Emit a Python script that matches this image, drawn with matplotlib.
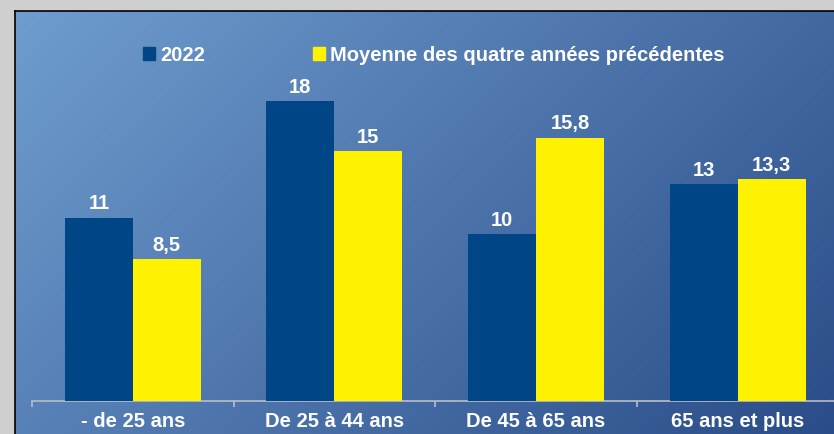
import numpy as np
import matplotlib.pyplot as plt
from matplotlib.patches import Patch
from matplotlib.colors import to_rgb

plt.rcParams['font.family'] = ['Liberation Sans', 'DejaVu Sans']

categories = ['- de 25 ans', 'De 25 à 44 ans', 'De 45 à 65 ans', '65 ans et plus']
values_2022 = [11, 18, 10, 13]
values_avg = [8.5, 15, 15.8, 13.3]
labels_2022 = ['11', '18', '10', '13']
labels_avg = ['8,5', '15', '15,8', '13,3']
series_names = ['2022', 'Moyenne des quatre années précédentes']

W, H = 834, 434
fig = plt.figure(figsize=(W / 100, H / 100), dpi=100)
fig.patch.set_facecolor('#cfcfcf')

# gradient background panel
bg = fig.add_axes([15 / W, 0, (W - 15) / W + 0.01, (H - 11) / H])
nx, ny = 400, 200
xx, yy = np.meshgrid(np.linspace(0, 1, nx), np.linspace(0, 1, ny))
t = (xx * (W - 15) + yy * (H - 11)) / ((W - 15) + (H - 11))
c0 = np.array(to_rgb('#6f9dcf'))
c1 = np.array(to_rgb('#2a4c88'))
img = c0[None, None, :] * (1 - t[..., None]) + c1[None, None, :] * t[..., None]
bg.imshow(img, aspect='auto', extent=(0, 1, 0, 1), origin='upper')
bg.set_xlim(0, 1)
bg.set_ylim(0, 1)
bg.set_xticks([])
bg.set_yticks([])
for side in ['right', 'bottom']:
    bg.spines[side].set_visible(False)
for side in ['top', 'left']:
    bg.spines[side].set_color('black')
    bg.spines[side].set_linewidth(1.2)

# plot area
left, right, bottom, top = 32, 838.4, 401, 11
ax = fig.add_axes([left / W, (H - bottom) / H, (right - left) / W, (bottom - top) / H])
ax.patch.set_alpha(0)
ax.set_xlim(-0.5, 3.5)
ax.set_ylim(0, (bottom - top) / 16.67)

x = np.arange(len(categories))
bw = 0.337
b1 = ax.bar(x - bw / 2, values_2022, bw, color='#004586', zorder=3)
b2 = ax.bar(x + bw / 2, values_avg, bw, color='#fff200', zorder=3)

for bars, labs in [(b1, labels_2022), (b2, labels_avg)]:
    for rect, lab in zip(bars, labs):
        ax.annotate(lab, (rect.get_x() + rect.get_width() / 2, rect.get_height()),
                    xytext=(0, 3), textcoords='offset points', ha='center', va='bottom',
                    color='white', fontsize=14.5, fontweight='bold')

for side in ['top', 'left', 'right']:
    ax.spines[side].set_visible(False)
ax.spines['bottom'].set_color('#b8bec8')
ax.spines['bottom'].set_linewidth(1.2)
ax.set_yticks([])
ax.set_xticks(np.arange(-0.5, 4, 1))
ax.set_xticklabels([])
ax.tick_params(axis='x', length=4, color='#b8bec8', width=1.2)
ax.set_xticks(x, minor=True)
ax.set_xticklabels(categories, minor=True, color='white', fontsize=14.5, fontweight='bold')
ax.tick_params(axis='x', which='minor', length=0, pad=8)

handles = [Patch(color='#004586'), Patch(color='#fff200')]
ax.legend(handles, series_names, loc='center', bbox_to_anchor=(0.4985, 0.887), ncol=2,
          frameon=False, handlelength=0.6, handleheight=0.6, handletextpad=0.25,
          columnspacing=5.35, prop={'size': 14.5, 'weight': 'bold'}, labelcolor='white')

fig.savefig('out.png', dpi=100)
